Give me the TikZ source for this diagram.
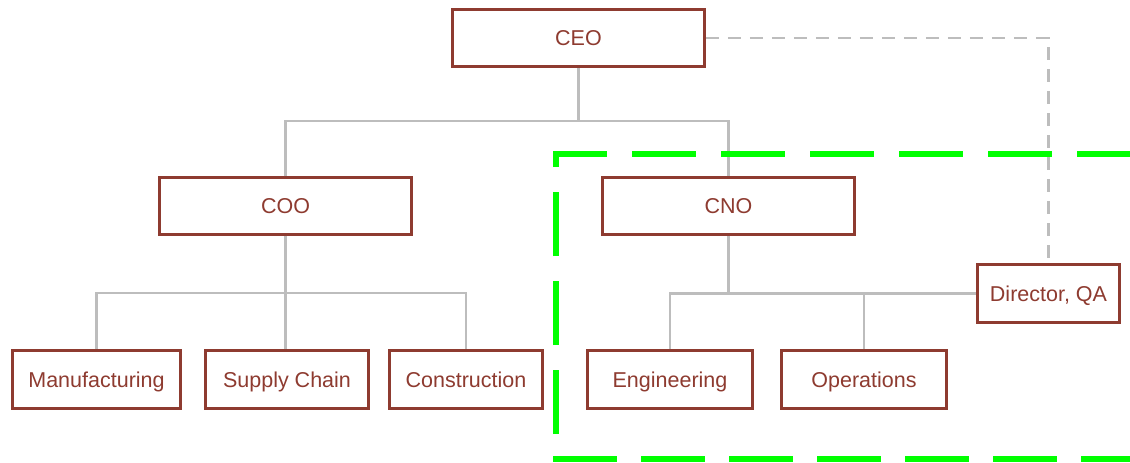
\documentclass[tikz,border=0pt]{standalone}
\usepackage{fontspec}
\setmainfont{Liberation Sans}
\definecolor{boxred}{HTML}{8E3B30}
\definecolor{linegray}{HTML}{BDBDBD}
\definecolor{hlgreen}{HTML}{00FF00}
\tikzset{
  orgbox/.style={draw=boxred, line width=2.6pt, text=boxred, fill=white,
    font=\fontsize{21.5}{24}\selectfont, minimum height=57pt, inner sep=0pt,
    text height=15.4pt, text depth=0pt},
  conn/.style={draw=linegray, line width=2.6pt},
  dashconn/.style={draw=linegray, line width=2.4pt, dash pattern=on 13pt off 9pt},
  hl/.style={draw=hlgreen, line width=6pt}
}
\begin{document}
\begin{tikzpicture}[x=1pt,y=-1pt]
\useasboundingbox (0,0) rectangle (1130,463);
\clip (0,0) rectangle (1130,463);
% nodes
\node[orgbox, minimum width=252pt] (CEO) at (578.5,38) {CEO};
\node[orgbox, minimum width=252pt] (COO) at (285.5,206) {COO};
\node[orgbox, minimum width=252pt] (CNO) at (728.5,206) {CNO};
\node[orgbox, minimum width=168pt, minimum height=58pt] (Manu) at (96.5,379.5) {Manufacturing};
\node[orgbox, minimum width=163pt, minimum height=58pt] (Supply) at (287,379.5) {Supply Chain};
\node[orgbox, minimum width=153pt, minimum height=58pt] (Cons) at (466,379.5) {Construction};
\node[orgbox, minimum width=165pt, minimum height=58pt] (Eng) at (670,379.5) {Engineering};
\node[orgbox, minimum width=165pt, minimum height=58pt] (Ops) at (864,379.5) {Operations};
\node[orgbox, minimum width=142pt, minimum height=58pt] (Dir) at (1048.5,293.5) {Director, QA};
% junctions
\coordinate (j1) at (578.5,121);
\coordinate (j2) at (285.5,293);
\coordinate (j3) at (728.5,293);
% connectors
\draw[conn] (CEO.south) -- (j1);
\draw[conn] (COO.north) |- (j1) -| (CNO.north);
\draw[conn] (COO.south) -- (j2);
\draw[conn] (Manu.north) |- (j2) -| (Cons.north);
\draw[conn] (j2) -- (j2 |- Supply.north);
\draw[conn] (CNO.south) -- (j3);
\draw[conn] (Eng.north) |- (Dir.west);
\draw[conn] (Ops.north) -- (Ops.north |- j3);
\draw[dashconn] (CEO.east) -| (Dir.north);
% green highlight
\draw[hl, dash pattern=on 64pt off 25pt, dash phase=64pt] (556,459) -- (556,154) -- (1140,154);
\draw[hl, dash pattern=on 64pt off 24pt] (553,459) -- (1140,459);
\end{tikzpicture}
\end{document}
